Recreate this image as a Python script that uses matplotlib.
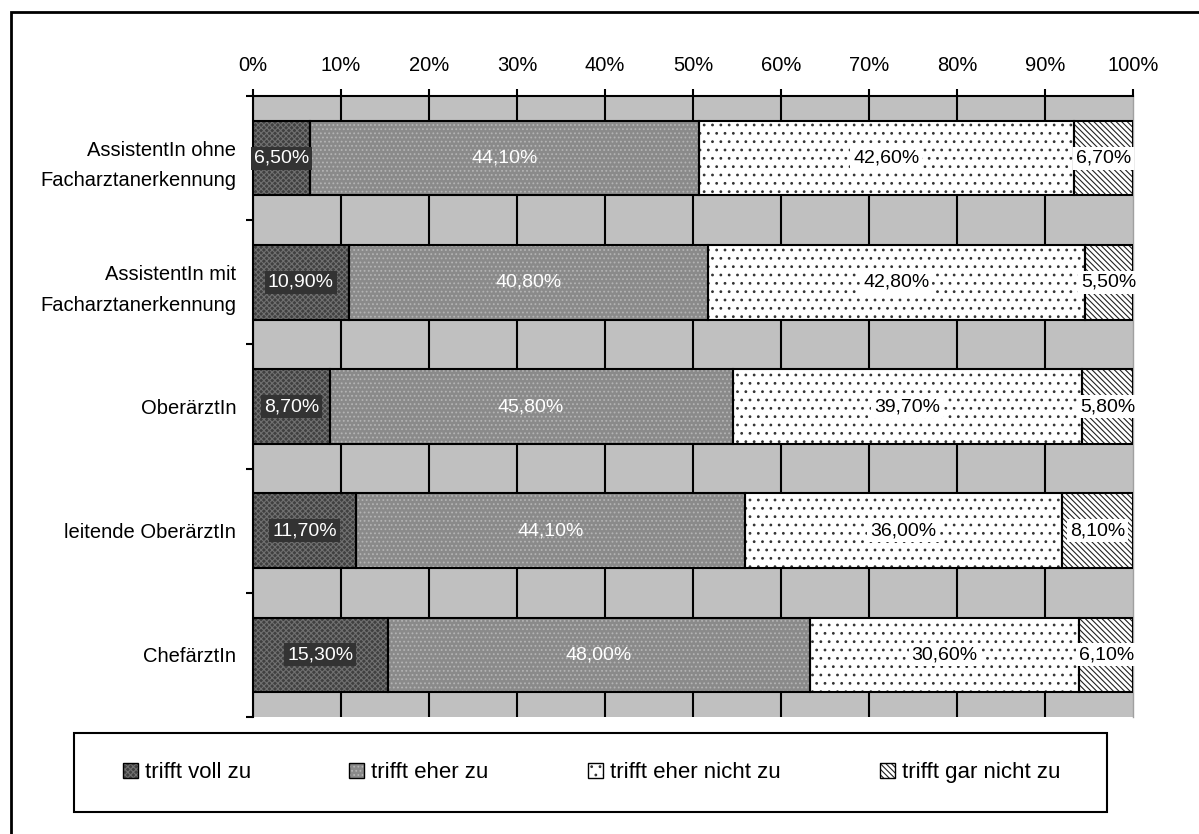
import matplotlib

matplotlib.use("Agg")
import matplotlib.pyplot as plt
import numpy as np
from matplotlib.legend_handler import HandlerPatch
from matplotlib.patches import Patch, Rectangle

plt.rcParams["font.family"] = ["Liberation Sans", "DejaVu Sans"]
plt.rcParams["hatch.linewidth"] = 0.8

categories = [
    "AssistentIn ohne\nFacharztanerkennung",
    "AssistentIn mit\nFacharztanerkennung",
    "OberärztIn",
    "leitende OberärztIn",
    "ChefärztIn",
]
series_names = ["trifft voll zu", "trifft eher zu", "trifft eher nicht zu", "trifft gar nicht zu"]
voll_zu = [6.5, 10.9, 8.7, 11.7, 15.3]
eher_zu = [44.1, 40.8, 45.8, 44.1, 48.0]
eher_nicht_zu = [42.6, 42.8, 39.7, 36.0, 30.6]
gar_nicht_zu = [6.7, 5.5, 5.8, 8.1, 6.1]
x_ticks = [0, 10, 20, 30, 40, 50, 60, 70, 80, 90, 100]

# face colour, hatch, hatch colour, label text colour, label box colour
styles = [
    ("#404040", "xxxxxx", "#707070", "white", "#333333"),
    ("#8a8a8a", "....", "#b4b4b4", "white", None),
    ("white", "..", "#333333", "black", "white"),
    ("white", "\\" * 6, "#222222", "black", "white"),
]
# left edge (px) of each legend key
legend_x_px = [123, 349, 588, 880]


class BoxedHandler(HandlerPatch):
    # hatched square plus a black outline, like the Excel legend keys
    def create_artists(self, legend, orig_handle, xdescent, ydescent, width,
                       height, fontsize, trans):
        arts = super().create_artists(legend, orig_handle, xdescent, ydescent,
                                      width, height, fontsize, trans)
        edge = Rectangle((-xdescent, -ydescent), width, height, fill=False,
                         edgecolor="black", linewidth=1, transform=trans)
        return arts + [edge]


raw = np.array([voll_zu, eher_zu, eher_nicht_zu, gar_nicht_zu])
share = raw / raw.sum(axis=0) * 100
ypos = np.arange(len(categories))

fig = plt.figure(figsize=(11.99, 8.34), dpi=100)
ax = fig.add_axes([253 / 1199, 1 - 717 / 834, 880 / 1199, 621 / 834])
ax.set_facecolor("#c0c0c0")

left = np.zeros(len(categories))
for i, (face, hatch, hcol, tcol, bcol) in enumerate(styles):
    ax.barh(ypos, share[i], left=left, height=0.6, color=face, hatch=hatch,
            edgecolor=hcol, linewidth=0, zorder=2)
    ax.barh(ypos, share[i], left=left, height=0.6, fill=False,
            edgecolor="black", linewidth=1.5, zorder=3)
    for j in range(len(categories)):
        txt = f"{raw[i, j]:.2f}%".replace(".", ",")
        box = None
        if bcol is not None:
            box = dict(boxstyle="square,pad=0.15", facecolor=bcol, edgecolor="none")
        ax.text(left[j] + share[i, j] / 2, ypos[j], txt, ha="center", va="center",
                fontsize=14, color=tcol, bbox=box, zorder=4)
    left += share[i]

ax.set_xlim(0, 100)
ax.set_ylim(len(categories) - 0.5, -0.5)
ax.xaxis.tick_top()
ax.set_xticks(x_ticks)
ax.set_xticklabels([f"{v}%" for v in x_ticks], fontsize=14.5)
ax.tick_params(axis="x", direction="out", length=5, width=1.5, pad=10)
ax.grid(axis="x", color="black", linewidth=1.5, zorder=1)
ax.set_axisbelow(True)
ax.get_xgridlines()[-1].set_visible(False)

ax.set_yticks(ypos)
ax.set_yticklabels(categories, fontsize=14.5, linespacing=1.75)
ax.set_yticks(np.arange(len(categories) + 1) - 0.5, minor=True)
ax.tick_params(axis="y", which="major", length=0, pad=12)
ax.tick_params(axis="y", which="minor", direction="out", length=5, width=1.5)

ax.spines["top"].set_linewidth(1.5)
ax.spines["left"].set_linewidth(1.5)
ax.spines["bottom"].set_visible(False)
ax.spines["right"].set_color("#a0a0a0")
ax.spines["right"].set_linewidth(1)

# legend box, one single-entry legend per key
fig.add_artist(Rectangle((74 / 1199, 1 - 812 / 834), 1033 / 1199, 79 / 834,
                         fill=False, edgecolor="black", linewidth=1.5,
                         transform=fig.transFigure))
for s, name, xp in zip(styles, series_names, legend_x_px):
    h = Patch(facecolor=s[0], hatch=s[1], edgecolor=s[2], linewidth=0)
    fig.legend([h], [name], loc="center left",
               bbox_to_anchor=(xp / 1199, 1 - 772.5 / 834),
               fontsize=16, frameon=False, handlelength=0.68, handleheight=0.68,
               handletextpad=0.32, borderpad=0, borderaxespad=0,
               handler_map={Patch: BoxedHandler()})

fig.add_artist(Rectangle((11 / 1199, -0.2), 1.5, 1.2 - 12 / 834, fill=False,
                         edgecolor="black", linewidth=2, transform=fig.transFigure))

fig.savefig("out.png", dpi=100)
